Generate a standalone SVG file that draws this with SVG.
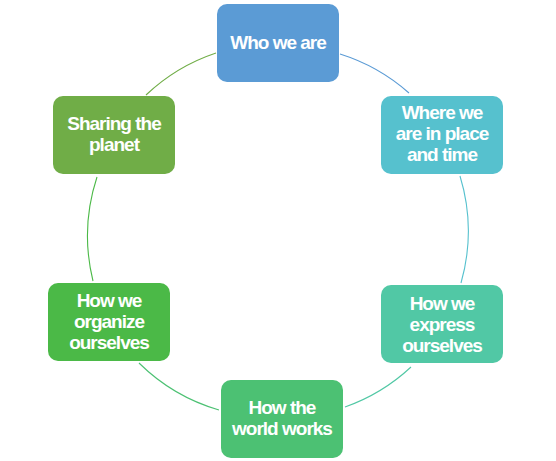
<svg xmlns="http://www.w3.org/2000/svg" width="556" height="461" viewBox="0 0 556 461">
<style>
.n rect{rx:10px;ry:10px}
.n text{font-family:"Liberation Sans",Arial,sans-serif;font-weight:bold;font-size:19px;letter-spacing:-1px;fill:#ffffff;text-anchor:middle}
.c path{fill:none;stroke-width:1.1}
</style>
<rect width="556" height="461" fill="#ffffff"/>
<g id="connectors" class="c">
<path d="M340,54 A189,189 0 0 1 409,93" stroke="#5B9BD5"/>
<path d="M460,176 A189,189 0 0 1 461,283" stroke="#56C1CE"/>
<path d="M411,367 A189,189 0 0 1 345,407" stroke="#51C8A5"/>
<path d="M219,410 A189,189 0 0 1 139,363" stroke="#4CC173"/>
<path d="M93,281 A189,189 0 0 1 97,177" stroke="#4BB947"/>
<path d="M146,95 A189,189 0 0 1 216,53" stroke="#70AD47"/>
</g>
<g id="who" class="n">
<rect x="217" y="4" width="122" height="78" fill="#5B9BD5"/>
<text x="278" y="49">Who we are</text>
</g>
<g id="where" class="n">
<rect x="381" y="96" width="122" height="78" fill="#56C1CE"/>
<text x="442" y="119">Where we</text>
<text x="442" y="140">are in place</text>
<text x="442" y="161">and time</text>
</g>
<g id="express" class="n">
<rect x="381" y="285" width="122" height="78" fill="#51C8A5"/>
<text x="442" y="310">How we</text>
<text x="442" y="331">express</text>
<text x="442" y="352">ourselves</text>
</g>
<g id="world" class="n">
<rect x="221" y="380" width="122" height="78" fill="#4CC173"/>
<text x="282" y="414">How the</text>
<text x="282" y="435">world works</text>
</g>
<g id="organize" class="n">
<rect x="48" y="283" width="122" height="78" fill="#4BB947"/>
<text x="109" y="307">How we</text>
<text x="109" y="328">organize</text>
<text x="109" y="349">ourselves</text>
</g>
<g id="sharing" class="n">
<rect x="53" y="96" width="122" height="78" fill="#70AD47"/>
<text x="114" y="130">Sharing the</text>
<text x="114" y="151">planet</text>
</g>
</svg>
